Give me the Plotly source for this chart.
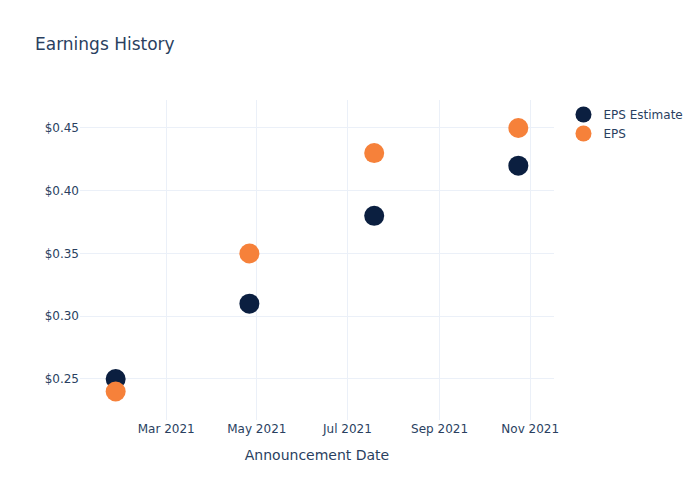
import plotly.graph_objects as go

dates = ["2021-01-26", "2021-04-26", "2021-07-19", "2021-10-24"]
eps_estimate = [0.25, 0.31, 0.38, 0.42]
eps_actual = [0.24, 0.35, 0.43, 0.45]

fig = go.Figure()
fig.add_trace(go.Scatter(x=dates, y=eps_estimate, mode="markers", name="EPS Estimate",
                         marker=dict(color="#0b1f40", size=20)))
fig.add_trace(go.Scatter(x=dates, y=eps_actual, mode="markers", name="EPS",
                         marker=dict(color="#f6813a", size=20)))

fig.update_layout(
    template="plotly_white",
    width=700, height=500,
    font=dict(family="DejaVu Sans"),
    title=dict(text="Earnings History"),
    xaxis=dict(title=dict(text="Announcement Date"), range=["2021-01-02", "2021-11-17"]),
    yaxis=dict(tickprefix="$", tickformat=".2f", range=[0.2173, 0.4723]),
)
fig.write_html("out.html")
